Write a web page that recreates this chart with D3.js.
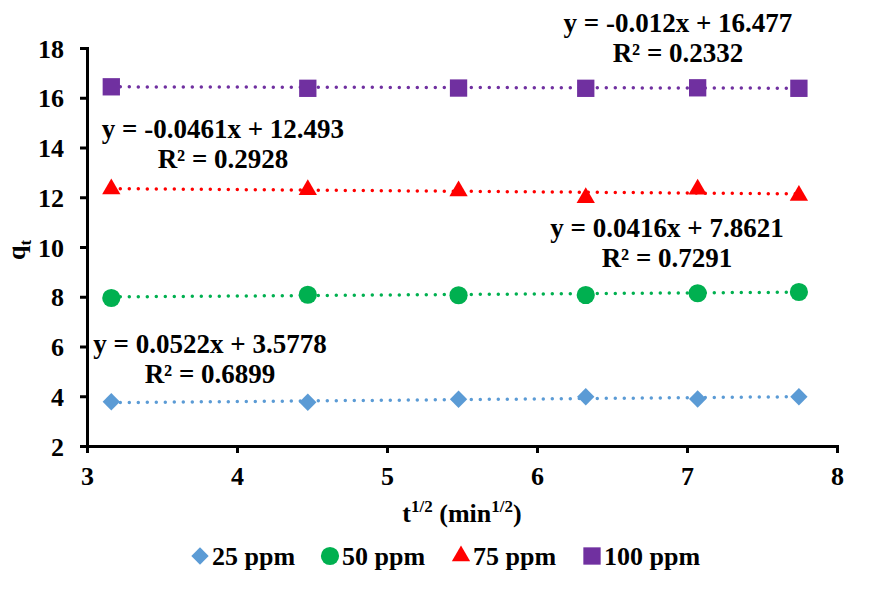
<!DOCTYPE html>
<html>
<head>
<script src="https://d3js.org/d3.v7.min.js"></script>
<style>
  body { margin: 0; background: #fff; }
  text { font-family: "Liberation Serif", "Times New Roman", serif; font-weight: bold; fill: #000; }
</style>
</head>
<body>
<div id="chart"></div>
<script>
// x = sqrt(t), t = 10..60 min
var xVals = [3.162, 4.472, 5.477, 6.325, 7.071, 7.746];
var seriesNames = ["25 ppm", "50 ppm", "75 ppm", "100 ppm"];
var q25 = [3.78, 3.76, 3.88, 3.98, 3.89, 3.98];
var q50 = [7.95, 8.08, 8.06, 8.07, 8.14, 8.19];
var q75 = [12.33, 12.30, 12.25, 11.98, 12.32, 12.07];
var q100 = [16.44, 16.38, 16.39, 16.38, 16.40, 16.38];
var slopes = [0.0522, 0.0416, -0.0461, -0.012];
var intercepts = [3.5778, 7.8621, 12.493, 16.477];
var eqLabels = [
  ["y = 0.0522x + 3.5778", "R² = 0.6899"],
  ["y = 0.0416x + 7.8621", "R² = 0.7291"],
  ["y = -0.0461x + 12.493", "R² = 0.2928"],
  ["y = -0.012x + 16.477", "R² = 0.2332"]
];
var xTicks = [3, 4, 5, 6, 7, 8];
var yTicks = [2, 4, 6, 8, 10, 12, 14, 16, 18];

var colors = ["#5B9BD5", "#00B050", "#FF0000", "#7030A0"];
var shapes = ["diamond", "circle", "triangle", "square"];
var allQ = [q25, q50, q75, q100];

var width = 888, height = 592;
var svg = d3.select("#chart").append("svg")
  .attr("width", width).attr("height", height);

var x = d3.scaleLinear().domain([3, 8]).range([87, 837]);
var y = d3.scaleLinear().domain([2, 18]).range([446, 48]);

// axes
var xAxis = svg.append("g").attr("transform", "translate(0,446)")
  .call(d3.axisBottom(x).tickValues(xTicks).tickSize(7).tickPadding(14).tickFormat(d3.format("d")));
var yAxis = svg.append("g").attr("transform", "translate(87,0)")
  .call(d3.axisLeft(y).tickValues(yTicks).tickSize(7).tickPadding(16).tickFormat(d3.format("d")));
[xAxis, yAxis].forEach(function (g) {
  g.select(".domain").attr("stroke", "#000").attr("stroke-width", 3);
  g.selectAll(".tick line").attr("stroke", "#000").attr("stroke-width", 3);
  g.selectAll(".tick text").attr("font-family", "Liberation Serif").attr("font-weight", "bold")
    .attr("font-size", "26px").attr("fill", "#000");
});
yAxis.selectAll(".tick text").attr("dy", "0.35em");

function symbolFor(shape) {
  if (shape === "diamond") return d3.symbol().type(d3.symbolSquare).size(150)();
  if (shape === "circle") return d3.symbol().type(d3.symbolCircle).size(260)();
  if (shape === "triangle") return d3.symbol().type(d3.symbolTriangle).size(145)();
  return d3.symbol().type(d3.symbolSquare).size(300)();
}

// trendlines
var xMin = d3.min(xVals), xMax = d3.max(xVals);
allQ.forEach(function (q, i) {
  svg.append("line")
    .attr("x1", x(xMin)).attr("y1", y(slopes[i] * xMin + intercepts[i]))
    .attr("x2", x(xMax)).attr("y2", y(slopes[i] * xMax + intercepts[i]))
    .attr("stroke", colors[i]).attr("stroke-width", 3.5)
    .attr("stroke-linecap", "round").attr("stroke-dasharray", "0 9");
});

// markers
allQ.forEach(function (q, i) {
  svg.append("g").selectAll("path").data(q).join("path")
    .attr("d", symbolFor(shapes[i]))
    .attr("transform", function (d, j) {
      return "translate(" + x(xVals[j]) + "," + y(d) + ")" + (shapes[i] === "diamond" ? " rotate(45)" : "");
    })
    .attr("fill", colors[i]);
});

// equation labels
var eqPos = [[210, 353], [667, 237], [223, 138], [678, 32]];
eqLabels.forEach(function (lines, i) {
  var t = svg.append("text").attr("text-anchor", "middle").attr("font-size", "27px");
  lines.forEach(function (s, k) {
    t.append("tspan").attr("x", eqPos[i][0]).attr("y", eqPos[i][1] + k * 30).text(s);
  });
});

// axis titles
var xt = svg.append("text").attr("x", 462).attr("y", 522).attr("text-anchor", "middle").attr("font-size", "26px");
xt.append("tspan").text("t");
xt.append("tspan").attr("font-size", "17px").attr("dy", "-10").text("1/2");
xt.append("tspan").attr("dy", "10").text(" (min");
xt.append("tspan").attr("font-size", "17px").attr("dy", "-10").text("1/2");
xt.append("tspan").attr("dy", "10").text(")");

var yt = svg.append("text").attr("transform", "translate(25,250) rotate(-90)")
  .attr("text-anchor", "middle").attr("font-size", "26px");
yt.append("tspan").text("q");
yt.append("tspan").attr("font-size", "17px").attr("dy", "6").text("t");

// legend
var legX = [200, 330, 461, 592];
seriesNames.forEach(function (name, i) {
  svg.append("path").attr("d", symbolFor(shapes[i]))
    .attr("transform", "translate(" + legX[i] + ",556)" + (shapes[i] === "diamond" ? " rotate(45)" : ""))
    .attr("fill", colors[i]);
  svg.append("text").attr("x", legX[i] + 12).attr("y", 565).attr("font-size", "26px").text(name);
});
</script>
</body>
</html>
